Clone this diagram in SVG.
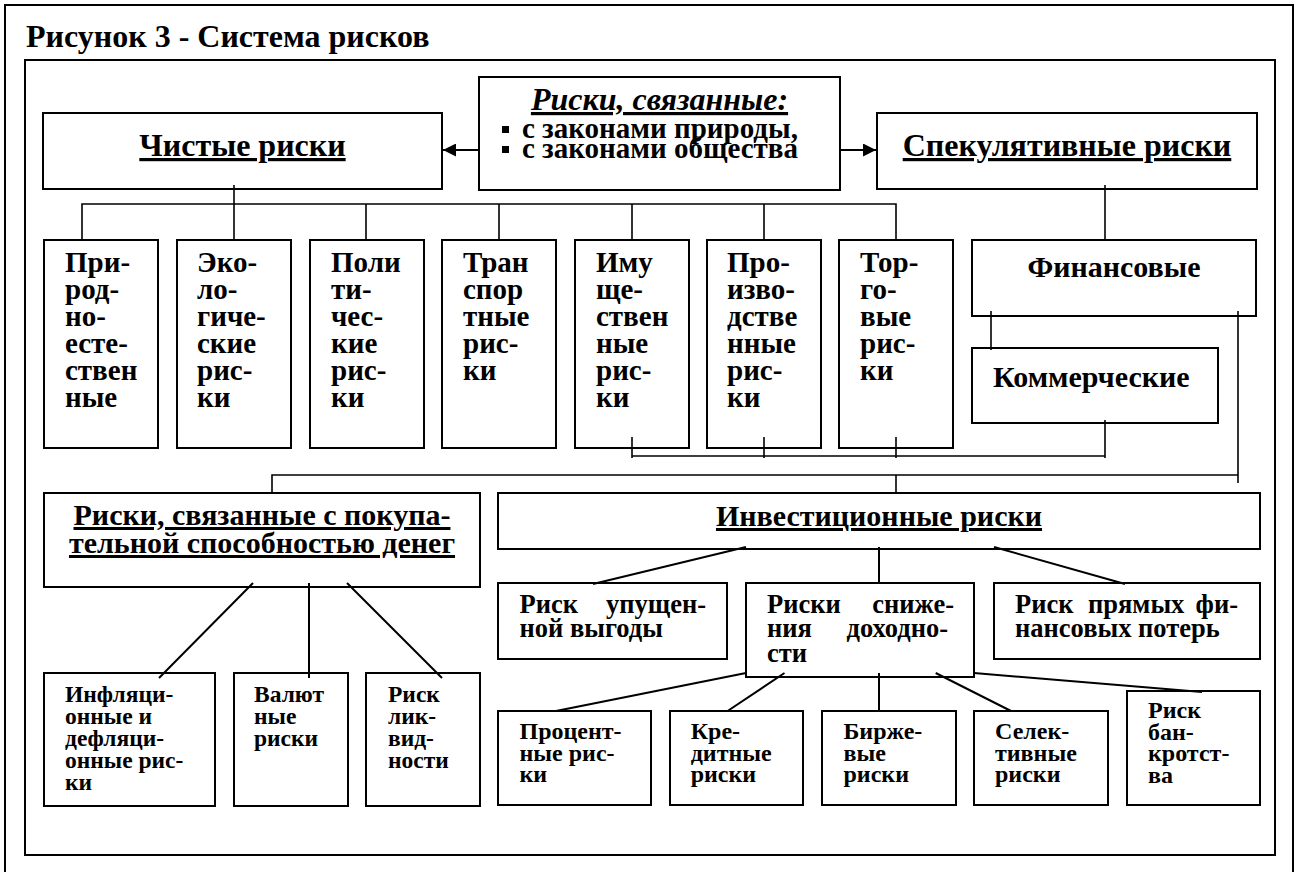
<svg xmlns="http://www.w3.org/2000/svg" width="1302" height="872" viewBox="0 0 1302 872">
<style>
text { font-family: "Liberation Serif", "DejaVu Serif", serif; font-weight: bold; fill: #000; }
.box { fill: #fff; stroke: #000; stroke-width: 2; }
.frame { fill: none; stroke: #000; stroke-width: 2; }
.c { stroke: #000; stroke-width: 1.6; fill: none; }
.d { stroke: #000; stroke-width: 2; fill: none; }
.h { font-size: 32px; text-anchor: middle; text-decoration: underline; text-decoration-thickness: 3px; }
.h2 { font-size: 30px; }
.s { font-size: 29px; }
.m { font-size: 23.5px; }
.r { font-size: 26.5px; }
.b { font-size: 24px; }
.e { text-anchor: end; }
</style>
<defs>
<marker id="arr" viewBox="0 0 13 13" refX="13" refY="6.5" markerWidth="13" markerHeight="13" markerUnits="userSpaceOnUse" orient="auto"><path d="M0,0 L13,6.5 L0,13 z" fill="#000"/></marker>
</defs>
<rect width="1302" height="872" fill="#fff"/>
<g id="frames">
<rect class="frame" x="5" y="5" width="1288" height="872"/>
<rect class="frame" x="25" y="60" width="1250" height="795"/>
<text x="26" y="47" style="font-size:32px">Рисунок 3 - Система рисков</text>
</g>
<g id="n-center">
<rect class="box" x="479" y="77" width="361" height="113"/>
<text class="h" x="659.5" y="110" style="font-style:italic">Риски, связанные:</text>
<rect x="502" y="126" width="7" height="7" fill="#000"/>
<rect x="502" y="146" width="7" height="7" fill="#000"/>
<text x="522" y="138" style="font-size:29px">с законами природы,</text>
<text x="522" y="158" style="font-size:29px">с законами общества</text>
</g>
<g id="n-pure">
<rect class="box" x="43" y="113" width="399" height="76"/>
<text class="h" x="242.5" y="156">Чистые риски</text>
</g>
<g id="n-spec">
<rect class="box" x="877" y="113" width="380" height="76"/>
<text class="h" x="1067" y="156">Спекулятивные риски</text>
</g>
<g id="n-prir">
<rect class="box" x="44" y="240" width="114" height="208"/>
<text class="s" x="65" y="272"><tspan x="65">При-</tspan><tspan x="65" dy="27">род-</tspan><tspan x="65" dy="27">но-</tspan><tspan x="65" dy="27">есте-</tspan><tspan x="65" dy="27">ствен</tspan><tspan x="65" dy="27">ные</tspan></text>
</g>
<g id="n-eco">
<rect class="box" x="177" y="240" width="114" height="208"/>
<text class="s" x="197" y="272"><tspan x="197">Эко-</tspan><tspan x="197" dy="27">ло-</tspan><tspan x="197" dy="27">гиче-</tspan><tspan x="197" dy="27">ские</tspan><tspan x="197" dy="27">рис-</tspan><tspan x="197" dy="27">ки</tspan></text>
</g>
<g id="n-pol">
<rect class="box" x="310" y="240" width="114" height="208"/>
<text class="s" x="331" y="272"><tspan x="331">Поли</tspan><tspan x="331" dy="27">ти-</tspan><tspan x="331" dy="27">чес-</tspan><tspan x="331" dy="27">кие</tspan><tspan x="331" dy="27">рис-</tspan><tspan x="331" dy="27">ки</tspan></text>
</g>
<g id="n-trans">
<rect class="box" x="442" y="240" width="114" height="208"/>
<text class="s" x="463" y="272"><tspan x="463">Тран</tspan><tspan x="463" dy="27">спор</tspan><tspan x="463" dy="27">тные</tspan><tspan x="463" dy="27">рис-</tspan><tspan x="463" dy="27">ки</tspan></text>
</g>
<g id="n-imu">
<rect class="box" x="575" y="240" width="114" height="208"/>
<text class="s" x="596" y="272"><tspan x="596">Иму</tspan><tspan x="596" dy="27">ще-</tspan><tspan x="596" dy="27">ствен</tspan><tspan x="596" dy="27">ные</tspan><tspan x="596" dy="27">рис-</tspan><tspan x="596" dy="27">ки</tspan></text>
</g>
<g id="n-proizv">
<rect class="box" x="707" y="240" width="114" height="208"/>
<text class="s" x="727" y="272"><tspan x="727">Про-</tspan><tspan x="727" dy="27">изво-</tspan><tspan x="727" dy="27">дстве</tspan><tspan x="727" dy="27">нные</tspan><tspan x="727" dy="27">рис-</tspan><tspan x="727" dy="27">ки</tspan></text>
</g>
<g id="n-torg">
<rect class="box" x="839" y="240" width="114" height="208"/>
<text class="s" x="860" y="272"><tspan x="860">Тор-</tspan><tspan x="860" dy="27">го-</tspan><tspan x="860" dy="27">вые</tspan><tspan x="860" dy="27">рис-</tspan><tspan x="860" dy="27">ки</tspan></text>
</g>
<g id="n-fin">
<rect class="box" x="972" y="240" width="284" height="76"/>
<text x="1114" y="277" text-anchor="middle" style="font-size:30px">Финансовые</text>
</g>
<g id="n-comm">
<rect class="box" x="972" y="348" width="246" height="75"/>
<text x="993" y="387" style="font-size:30px">Коммерческие</text>
</g>
<g id="n-pokup">
<rect class="box" x="44" y="493" width="436" height="94"/>
<text class="h h2" x="262" y="525">Риски, связанные с покупа-</text>
<text class="h h2" x="262" y="553">тельной способностью денег</text>
</g>
<g id="n-invest">
<rect class="box" x="498" y="493" width="762" height="56"/>
<text class="h h2" x="879" y="526">Инвестиционные риски</text>
</g>
<g id="n-infl">
<rect class="box" x="44" y="673" width="171" height="133"/>
<text class="m" x="65" y="702"><tspan x="65">Инфляци-</tspan><tspan x="65" dy="22">онные и</tspan><tspan x="65" dy="22">дефляци-</tspan><tspan x="65" dy="22">онные рис-</tspan><tspan x="65" dy="22">ки</tspan></text>
</g>
<g id="n-val">
<rect class="box" x="234" y="673" width="114" height="133"/>
<text class="m" x="254" y="702"><tspan x="254">Валют</tspan><tspan x="254" dy="22">ные</tspan><tspan x="254" dy="22">риски</tspan></text>
</g>
<g id="n-likv">
<rect class="box" x="366" y="673" width="114" height="133"/>
<text class="m" x="388" y="702"><tspan x="388">Риск</tspan><tspan x="388" dy="22">лик-</tspan><tspan x="388" dy="22">вид-</tspan><tspan x="388" dy="22">ности</tspan></text>
</g>
<g id="n-upush">
<rect class="box" x="498" y="583" width="229" height="76"/>
<text class="r" x="519.5" y="613">Риск</text>
<text class="r e" x="706" y="613">упущен-</text>
<text class="r" x="519.5" y="637">ной выгоды</text>
</g>
<g id="n-snizh">
<rect class="box" x="746" y="583" width="228" height="94"/>
<text class="r" x="767" y="613">Риски</text>
<text class="r e" x="954" y="613">сниже-</text>
<text class="r" x="767" y="637">ния</text>
<text class="r e" x="948" y="637">доходно-</text>
<text class="r" x="767" y="662">сти</text>
</g>
<g id="n-pryam">
<rect class="box" x="994" y="583" width="266" height="76"/>
<text class="r" x="1015" y="613">Риск</text>
<text class="r" x="1088" y="613">прямых</text>
<text class="r e" x="1238" y="613">фи-</text>
<text class="r" x="1015" y="637">нансовых потерь</text>
</g>
<g id="n-proc">
<rect class="box" x="498" y="711" width="153" height="94"/>
<text class="b" x="519.5" y="739"><tspan x="519.5">Процент-</tspan><tspan x="519.5" dy="21.5">ные рис-</tspan><tspan x="519.5" dy="21.5">ки</tspan></text>
</g>
<g id="n-kred">
<rect class="box" x="670" y="711" width="133" height="94"/>
<text class="b" x="690.7" y="739"><tspan x="690.7">Кре-</tspan><tspan x="690.7" dy="21.5">дитные</tspan><tspan x="690.7" dy="21.5">риски</tspan></text>
</g>
<g id="n-birzh">
<rect class="box" x="822" y="711" width="134" height="94"/>
<text class="b" x="843.5" y="739"><tspan x="843.5">Бирже-</tspan><tspan x="843.5" dy="21.5">вые</tspan><tspan x="843.5" dy="21.5">риски</tspan></text>
</g>
<g id="n-sel">
<rect class="box" x="974" y="711" width="134" height="94"/>
<text class="b" x="995" y="739"><tspan x="995">Селек-</tspan><tspan x="995" dy="21.5">тивные</tspan><tspan x="995" dy="21.5">риски</tspan></text>
</g>
<g id="n-bankr">
<rect class="box" x="1127" y="691" width="133" height="114"/>
<text class="b" x="1148" y="718"><tspan x="1148">Риск</tspan><tspan x="1148" dy="21.7">бан-</tspan><tspan x="1148" dy="21.7">кротст-</tspan><tspan x="1148" dy="21.7">ва</tspan></text>
</g>
<g id="connectors">
<path class="d" d="M479,150 H443" marker-end="url(#arr)"/>
<path class="d" d="M840,150 H876" marker-end="url(#arr)"/>
<path class="c" d="M234,185 V240"/>
<path class="c" d="M82,240 V204 H896 V240"/>
<path class="c" d="M366,204 V240 M499,204 V240 M632,204 V240 M764,204 V240"/>
<path class="c" d="M1105,185 V240"/>
<path class="c" d="M991,311 V350"/>
<path class="c" d="M632,437 V458 M764,437 V458 M896,437 V458 M632,456 H1105 M1105,420 V458"/>
<path class="c" d="M1238,311 V483"/>
<path class="c" d="M272,493 V475 H1238"/>
<path class="c" d="M896,475 V493"/>
<path class="d" d="M253,583 L159,678 M309,583 V678 M347,583 L442,678"/>
<path class="d" d="M746,547 L593,584 M879,547 V584 M994,547 L1125,584"/>
<path class="d" d="M746,673 L556,711 M784.5,673 L727.6,711 M879,673 V711 M935.7,673 L1011,711 M974,673 L1202,692"/>
</g>
</svg>
